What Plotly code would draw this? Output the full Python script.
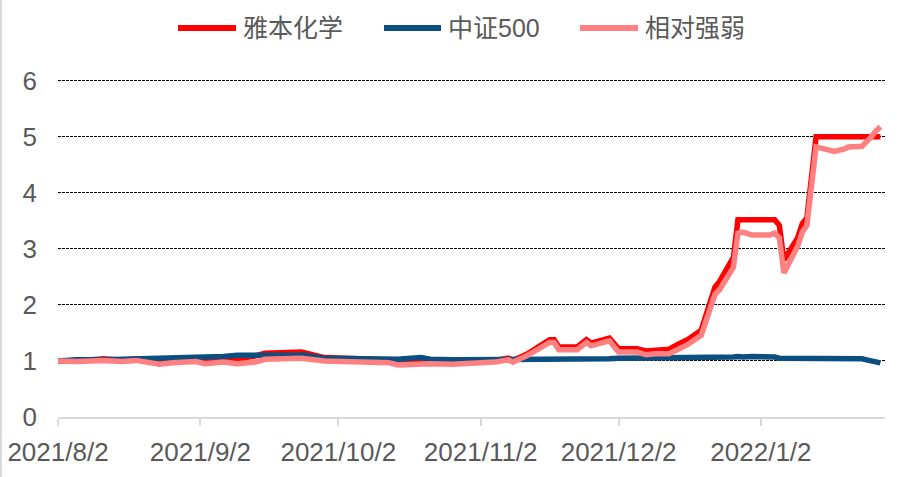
import plotly.graph_objects as go

dates = ["2021-08-02","2021-08-06","2021-08-12","2021-08-16","2021-08-19","2021-08-24","2021-08-27",
         "2021-09-01","2021-09-03","2021-09-07","2021-09-10","2021-09-14","2021-09-16","2021-09-23",
         "2021-09-24","2021-09-29","2021-10-08","2021-10-13","2021-10-15","2021-10-20","2021-10-22",
         "2021-10-27","2021-11-01","2021-11-05","2021-11-08","2021-11-09","2021-11-12","2021-11-16",
         "2021-11-17","2021-11-18","2021-11-19","2021-11-23","2021-11-25","2021-11-26","2021-11-29",
         "2021-11-30","2021-12-02","2021-12-06","2021-12-08","2021-12-10","2021-12-13","2021-12-15",
         "2021-12-17","2021-12-20","2021-12-22","2021-12-23","2021-12-24","2021-12-27","2021-12-28",
         "2021-12-29","2021-12-31","2022-01-04","2022-01-05","2022-01-06","2022-01-07","2022-01-10",
         "2022-01-11","2022-01-12","2022-01-14","2022-01-17","2022-01-18","2022-01-20","2022-01-21",
         "2022-01-24","2022-01-25","2022-01-26","2022-01-27","2022-01-28"]

yaben = [1.00,1.00,1.04,1.01,1.04,0.98,1.02,
         1.05,1.01,1.06,1.04,1.09,1.14,1.14,
         1.16,1.06,1.03,1.02,0.98,1.02,0.99,
         0.97,0.99,1.01,1.05,1.01,1.12,1.33,
         1.38,1.38,1.25,1.25,1.38,1.32,1.37,
         1.41,1.22,1.22,1.18,1.20,1.21,1.30,
         1.38,1.55,2.05,2.32,2.42,2.85,3.52,
         3.52,3.52,3.52,3.52,3.42,2.80,3.20,
         3.45,3.55,5.00,5.00,5.00,5.00,5.00,
         5.00,5.00,5.00,5.00,5.00]

zz500 = [1.00,1.02,1.02,1.03,1.02,1.04,1.05,
         1.06,1.06,1.08,1.10,1.11,1.10,1.10,
         1.11,1.05,1.03,1.03,1.03,1.06,1.03,
         1.02,1.02,1.02,1.02,1.02,1.03,1.03,
         1.04,1.04,1.04,1.04,1.04,1.04,1.04,
         1.04,1.05,1.05,1.06,1.06,1.07,1.07,
         1.07,1.06,1.06,1.06,1.07,1.07,1.08,
         1.07,1.08,1.08,1.07,1.05,1.05,1.05,
         1.04,1.04,1.04,1.04,1.05,1.04,1.04,
         1.04,1.02,1.00,0.98,0.965]

rel = [1.00,0.99,1.01,0.99,1.01,0.94,0.97,
       0.99,0.95,0.98,0.95,0.98,1.03,1.04,
       1.05,1.00,0.98,0.97,0.93,0.95,0.95,
       0.94,0.96,0.98,1.02,0.98,1.09,1.29,
       1.33,1.33,1.20,1.20,1.33,1.27,1.32,
       1.36,1.16,1.16,1.11,1.13,1.13,1.22,
       1.29,1.46,1.94,2.19,2.27,2.67,3.28,
       3.30,3.25,3.25,3.28,3.20,2.57,3.05,
       3.30,3.42,4.82,4.76,4.74,4.78,4.82,
       4.83,4.90,5.00,5.10,5.18]

names = ["雅本化学", "中证500", "相对强弱"]
colors = ["#FF0000", "#0B4F80", "#FF8080"]
series = [yaben, zz500, rel]

tick_vals = ["2021-08-02","2021-09-02","2021-10-02","2021-11-02","2021-12-02","2022-01-02"]
tick_text = ["2021/8/2","2021/9/2","2021/10/2","2021/11/2","2021/12/2","2022/1/2"]

fig = go.Figure()
for nm, col, ys in zip(names, colors, series):
    fig.add_trace(go.Scatter(x=dates, y=ys, mode="lines", name=nm,
                             line=dict(color=col, width=5.5), showlegend=False))

W, H = 900, 477
L, R, T, B = 58, 15, 78, 60
pw, ph = W - L - R, H - T - B

def px2x(px):
    return (px - L) / pw

def py2y(py):
    return (H - B - py) / ph

# manual legend
shapes = []
annotations = []
leg_y = py2y(28)
leg_pos = [(178, 236, 241), (384, 441, 446), (580, 638, 643)]
for (x0, x1, xt), nm, col in zip(leg_pos, names, colors):
    shapes.append(dict(type="line", xref="paper", yref="paper",
                       x0=px2x(x0), x1=px2x(x1), y0=leg_y, y1=leg_y,
                       line=dict(color=col, width=6)))
    annotations.append(dict(text=nm, xref="paper", yref="paper", x=px2x(xt), y=leg_y,
                            xanchor="left", yanchor="middle", showarrow=False,
                            font=dict(family="Liberation Sans, Noto Sans CJK SC", size=25, color="#595959")))

# left border of the picture
shapes.append(dict(type="line", xref="paper", yref="paper",
                   x0=px2x(1), x1=px2x(1), y0=py2y(0), y1=py2y(H),
                   line=dict(color="#CCCCCC", width=1.5)))

fig.update_layout(
    width=W, height=H,
    margin=dict(l=L, r=R, t=T, b=B, autoexpand=False),
    paper_bgcolor="white", plot_bgcolor="white",
    shapes=shapes, annotations=annotations,
    font=dict(family="Liberation Sans, Arial", size=26, color="#595959"),
)
fig.update_xaxes(
    type="date", range=["2021-08-02", "2022-01-29"], automargin=False,
    tickvals=tick_vals, ticktext=tick_text,
    showgrid=False, zeroline=False,
    showline=True, linecolor="#D9D9D9", linewidth=2,
    ticks="outside", ticklen=7, tickcolor="#D9D9D9", tickwidth=2,
    ticklabelstandoff=4,
    tickfont=dict(size=26, color="#595959"),
)
fig.update_yaxes(
    range=[0, 6.05], tickvals=[0, 1, 2, 3, 4, 5, 6], automargin=False,
    showgrid=True, gridcolor="#000000", gridwidth=1, griddash="3px,1px",
    zeroline=False, showline=False,
    ticks="", ticklabelstandoff=20,
    tickfont=dict(size=26, color="#595959"),
)

fig.write_html("out.html", config={"displayModeBar": False},
               post_script="document.body.style.margin='0';document.body.style.overflow='hidden';")
